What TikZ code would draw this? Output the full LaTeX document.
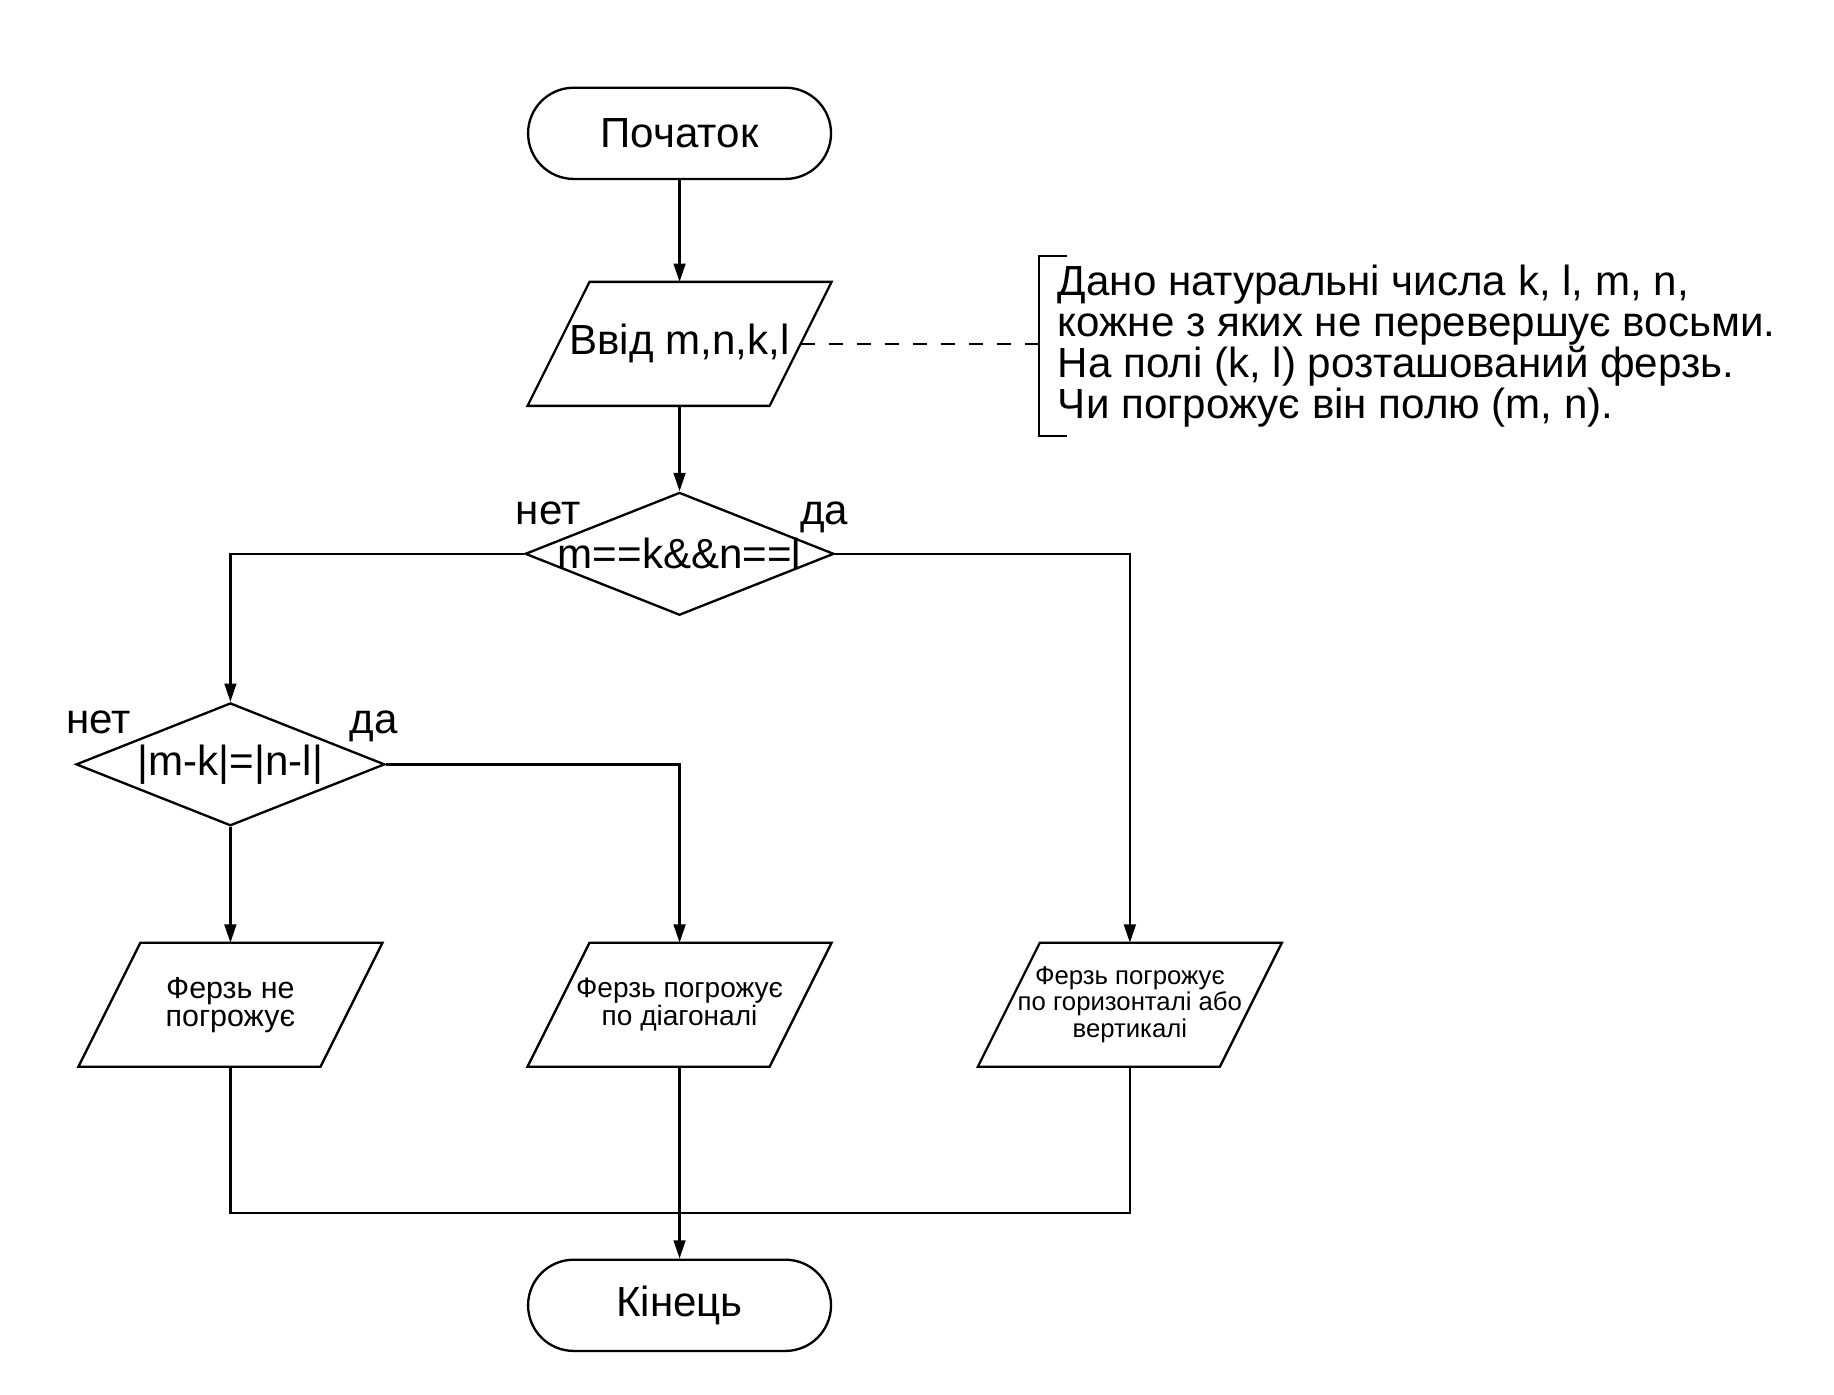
\documentclass[tikz,border=0pt]{standalone}
\usepackage{fontspec}
\setmainfont{Liberation Sans}
\usetikzlibrary{positioning,shapes.geometric,arrows.meta}

\begin{document}
\begin{tikzpicture}[
  line width=1pt,
  every node/.style={font=\fontsize{18pt}{17.6pt}\selectfont},
  term/.style={draw,rounded corners=19.5pt,minimum width=129.5pt,minimum height=39pt},
  io/.style={minimum width=102.5pt,minimum height=52pt,inner sep=0pt,align=center,
    append after command={\pgfextra{\draw ([xshift=13.25pt]\tikzlastnode.north west) -- ([xshift=13.25pt]\tikzlastnode.north east)
      -- ([xshift=-13.25pt]\tikzlastnode.south east) -- ([xshift=-13.25pt]\tikzlastnode.south west) -- cycle;}}},
  cond/.style={draw,diamond,aspect=2.5,minimum width=132pt,minimum height=52.5pt,inner xsep=-5pt,inner ysep=0pt},
  answer/.style={inner sep=0pt,anchor=base west},
  task/.style={align=left,inner sep=0pt,inner xsep=7.5pt,minimum height=76pt},
  arrow/.style={-{Triangle[length=7.8pt,width=5pt]}}
]
  \useasboundingbox (-290.5pt,57pt) rectangle (493.5pt,-539pt);

  \node[term] (start) at (0,0) {Початок};
  \node[io,below=43.5pt of start] (input) {Ввід m,n,k,l};
  \node[task,right=102pt of input,yshift=-1pt] (task) {Дано натуральні числа k, l, m, n,\\кожне з яких не перевершує восьми.\\На полі (k, l) розташований ферзь.\\Чи погрожує він полю (m, n).};
  \node[cond,below=36.5pt of input] (same) {m==k\&\&n==l};
  \node[cond,below=36.5pt of same,xshift=-192pt] (diag) {|m-k|=|n-l|};
  \node[io,font=\fontsize{13pt}{12pt}\selectfont,below=49.5pt of diag] (safe) {Ферзь не\\погрожує};
  \node[io,font=\fontsize{12pt}{11pt}\selectfont] (bydiag) at (safe -| same) {Ферзь погрожує\\по діагоналі};
  \node[io,font=\fontsize{11pt}{11.25pt}\selectfont,xshift=192.5pt] (byline) at (bydiag) {Ферзь погрожує\\по горизонталі або\\вертикалі};
  \node[term,below=82pt of bydiag] (end) {Кінець};
  \coordinate[below=62.5pt of bydiag.south] (join);

  % answers
  \node[answer] (no1) at ([shift={(-4pt,12.5pt)}]same.west) {нет};
  \node[answer] (yes1) at ([shift={(-15.5pt,12.5pt)}]same.east) {да};
  \node[answer] (no2) at ([shift={(-4pt,13pt)}]diag.west) {нет};
  \node[answer] (yes2) at ([shift={(-16pt,13pt)}]diag.east) {да};

  \draw[arrow] (start) -- (input);
  \draw[arrow] (input) -- (same);
  \draw[arrow] (same.west) -| (diag.north);
  \draw[arrow] (same.east) -| (byline.north);
  \draw[arrow] (diag.south) -- (safe.north);
  \draw[arrow] (diag.east) -| (bydiag.north);
  \draw (safe.south) |- (join) -| (byline.south);
  \draw[arrow] (bydiag.south) -- (end.north);

  % comment
  \draw[dash pattern=on 6pt off 6pt] (input.east) -- (input.east -| task.west);
  \draw ([xshift=12pt]task.north west) -- (task.north west) -- (task.south west) -- ([xshift=12pt]task.south west);
\end{tikzpicture}
\end{document}
